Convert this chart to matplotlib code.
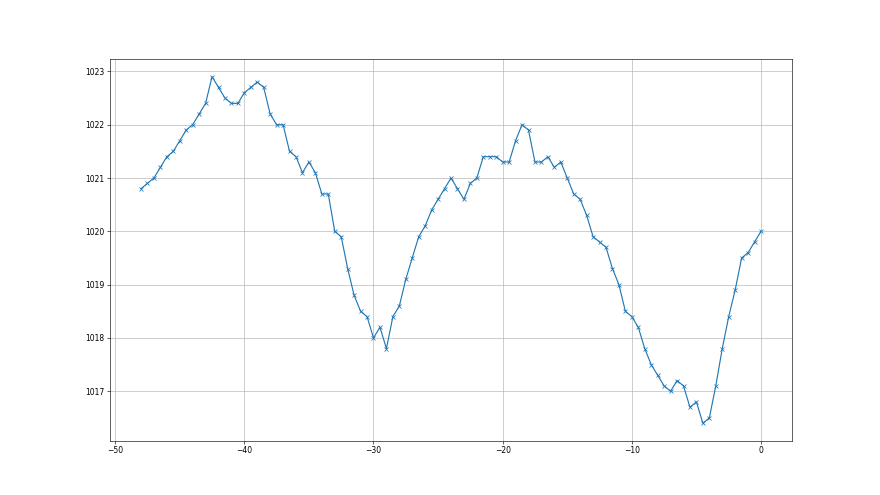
import numpy as np
import matplotlib
matplotlib.use("Agg")
import matplotlib.pyplot as plt

# Hours relative to now (half-hour steps)
hours = np.arange(-48, 0.01, 0.5)

# Pressure readings in hPa
pressure = [
    1020.8, 1020.9, 1021.0, 1021.2, 1021.4, 1021.5, 1021.7, 1021.9, 1022.0, 1022.2,
    1022.4, 1022.9, 1022.7, 1022.5, 1022.4, 1022.4, 1022.6, 1022.7, 1022.8, 1022.7,
    1022.2, 1022.0, 1022.0, 1021.5, 1021.4, 1021.1, 1021.3, 1021.1, 1020.7, 1020.7,
    1020.0, 1019.9, 1019.3, 1018.8, 1018.5, 1018.4, 1018.0, 1018.2, 1017.8, 1018.4,
    1018.6, 1019.1, 1019.5, 1019.9, 1020.1, 1020.4, 1020.6, 1020.8, 1021.0, 1020.8,
    1020.6, 1020.9, 1021.0, 1021.4, 1021.4, 1021.4, 1021.3, 1021.3, 1021.7, 1022.0,
    1021.9, 1021.3, 1021.3, 1021.4, 1021.2, 1021.3, 1021.0, 1020.7, 1020.6, 1020.3,
    1019.9, 1019.8, 1019.7, 1019.3, 1019.0, 1018.5, 1018.4, 1018.2, 1017.8, 1017.5,
    1017.3, 1017.1, 1017.0, 1017.2, 1017.1, 1016.7, 1016.8, 1016.4, 1016.5, 1017.1,
    1017.8, 1018.4, 1018.9, 1019.5, 1019.6, 1019.8, 1020.0,
]

fig, ax = plt.subplots(figsize=(16, 9), dpi=55)
ax.plot(hours, pressure, marker='x')
ax.grid(True)

fig.savefig("out.png", dpi=55)
